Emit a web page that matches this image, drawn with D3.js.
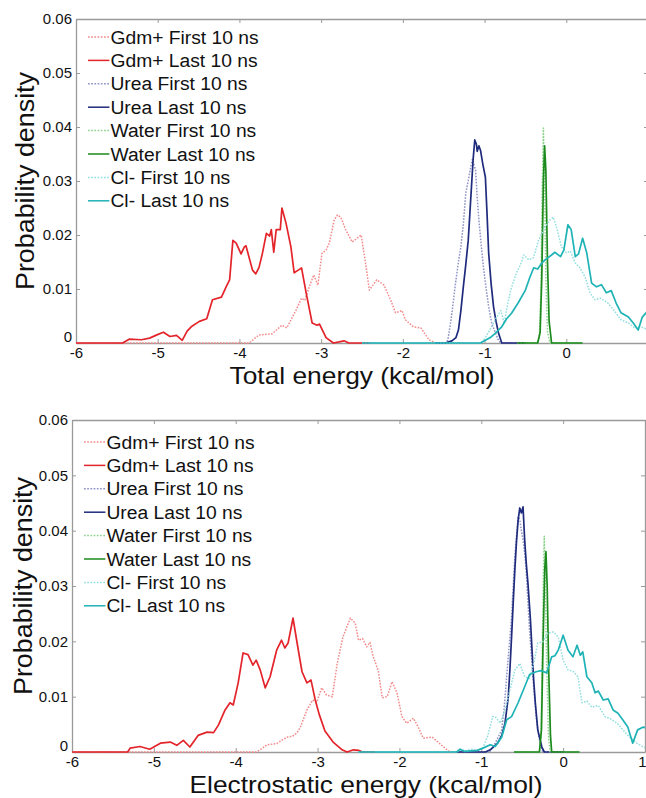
<!DOCTYPE html>
<html>
<head>
<meta charset="utf-8">
<script src="https://cdn.jsdelivr.net/npm/d3@7"></script>
<style>
body { margin: 0; background: #fff; }
svg { display: block; font-family: "Liberation Sans", Arial, sans-serif; }
</style>
</head>
<body>
<svg id="chart"></svg>
<script>
// ---- Total energy panel, [energy, density] pairs
const totGdmFirst = [[-6,0],[-3.88,0],[-3.76,0.0015],[-3.6,0.0017],[-3.48,0.0033],[-3.42,0.0028],[-3.31,0.006],[-3.24,0.0083],[-3.2,0.0079],[-3.15,0.0102],[-3.09,0.0126],[-3.04,0.0107],[-2.99,0.0166],[-2.94,0.0172],[-2.9,0.0185],[-2.84,0.0228],[-2.8,0.0237],[-2.76,0.0233],[-2.7,0.021],[-2.62,0.0187],[-2.51,0.02],[-2.45,0.0141],[-2.41,0.0098],[-2.32,0.0117],[-2.23,0.0107],[-2.15,0.008],[-2.09,0.0056],[-2.01,0.006],[-1.97,0.0043],[-1.87,0.003],[-1.78,0.0028],[-1.68,0.0006],[-1.6,0]];
const totGdmLast = [[-6,0],[-5.43,0],[-5.35,0.0007],[-5.2,0.0006],[-5.1,0.0009],[-5.01,0.0015],[-4.93,0.002],[-4.85,0.0012],[-4.77,0.0014],[-4.7,0.0005],[-4.64,0.0022],[-4.59,0.003],[-4.49,0.004],[-4.4,0.0045],[-4.33,0.008],[-4.22,0.0085],[-4.16,0.0105],[-4.12,0.0117],[-4.08,0.019],[-4.04,0.0185],[-3.98,0.0165],[-3.94,0.0178],[-3.92,0.018],[-3.84,0.0135],[-3.8,0.0128],[-3.76,0.014],[-3.72,0.0165],[-3.67,0.0203],[-3.63,0.0198],[-3.61,0.021],[-3.58,0.0168],[-3.55,0.021],[-3.5,0.021],[-3.48,0.025],[-3.43,0.0222],[-3.37,0.0178],[-3.33,0.013],[-3.28,0.0135],[-3.24,0.0139],[-3.18,0.009],[-3.11,0.0037],[-3.05,0.0033],[-3.02,0.0035],[-2.94,0.001],[-2.85,0],[-2.78,0.0002],[-2.72,0.0004],[-2.66,0],[-2.4,0]];
const totUreaFirst = [[-1.6,0],[-1.48,0],[-1.45,0.0005],[-1.41,0.0043],[-1.38,0.008],[-1.35,0.0117],[-1.32,0.015],[-1.29,0.0178],[-1.26,0.022],[-1.23,0.0278],[-1.2,0.03],[-1.17,0.0326],[-1.15,0.034],[-1.13,0.033],[-1.11,0.032],[-1.09,0.027],[-1.07,0.0228],[-1.04,0.018],[-1.01,0.0135],[-0.98,0.01],[-0.95,0.0067],[-0.91,0.0035],[-0.87,0.002],[-0.83,0.0005],[-0.8,0],[-0.5,0]];
const totUreaLast = [[-1.6,0],[-1.48,0],[-1.4,0.0004],[-1.35,0.001],[-1.32,0.0024],[-1.29,0.006],[-1.26,0.0104],[-1.23,0.0145],[-1.2,0.019],[-1.18,0.024],[-1.16,0.029],[-1.14,0.034],[-1.12,0.0376],[-1.1,0.0368],[-1.09,0.0355],[-1.07,0.0365],[-1.05,0.0357],[-1.02,0.033],[-0.99,0.0307],[-0.97,0.024],[-0.95,0.0167],[-0.92,0.011],[-0.89,0.0067],[-0.86,0.004],[-0.83,0.0019],[-0.79,0],[-0.5,0]];
const totWaterFirst = [[-0.6,0],[-0.36,0],[-0.33,0.001],[-0.31,0.01],[-0.295,0.028],[-0.28,0.0398],[-0.265,0.03],[-0.25,0.012],[-0.23,0.002],[-0.2,0],[0.2,0]];
const totWaterLast = [[-0.6,0],[-0.35,0],[-0.32,0.002],[-0.3,0.012],[-0.28,0.03],[-0.265,0.0365],[-0.25,0.032],[-0.23,0.015],[-0.21,0.004],[-0.18,0],[0.2,0]];
const totClFirst = [[-2.5,0],[-1.05,0],[-1,0.0008],[-0.95,0.002],[-0.87,0.0043],[-0.8,0.006],[-0.76,0.0037],[-0.72,0.007],[-0.68,0.0098],[-0.61,0.013],[-0.56,0.0145],[-0.52,0.0163],[-0.46,0.0154],[-0.4,0.0158],[-0.34,0.019],[-0.26,0.0215],[-0.2,0.0228],[-0.16,0.0233],[-0.12,0.0215],[-0.06,0.0178],[0,0.0167],[0.05,0.017],[0.11,0.0148],[0.17,0.0139],[0.23,0.0122],[0.29,0.0093],[0.35,0.008],[0.42,0.0083],[0.51,0.0074],[0.58,0.0061],[0.67,0.0043],[0.76,0.0037],[0.84,0.0028],[0.91,0.003],[1,0.0025]];
const totClLast = [[-2.5,0],[-1.05,0],[-0.99,0.0005],[-0.93,0.001],[-0.87,0.0018],[-0.79,0.003],[-0.73,0.0045],[-0.67,0.0055],[-0.59,0.0074],[-0.5,0.0098],[-0.45,0.012],[-0.4,0.0139],[-0.35,0.0137],[-0.3,0.0148],[-0.26,0.0154],[-0.18,0.0163],[-0.14,0.0168],[-0.07,0.016],[-0.03,0.0172],[0.02,0.0219],[0.06,0.021],[0.11,0.016],[0.15,0.0165],[0.2,0.0194],[0.25,0.0167],[0.31,0.0111],[0.37,0.0104],[0.43,0.0108],[0.49,0.0093],[0.55,0.0097],[0.61,0.0074],[0.67,0.0056],[0.76,0.0048],[0.82,0.0037],[0.88,0.0024],[0.93,0.0048],[1,0.006]];

// ---- Electrostatic energy panel
const eleGdmFirst = [[-6,0],[-3.75,0],[-3.7,0.0004],[-3.62,0.0013],[-3.5,0.0015],[-3.43,0.0022],[-3.37,0.0027],[-3.31,0.0028],[-3.25,0.0035],[-3.21,0.0045],[-3.13,0.0076],[-3.06,0.0094],[-3.01,0.009],[-2.95,0.0116],[-2.89,0.0103],[-2.82,0.01],[-2.76,0.016],[-2.69,0.0208],[-2.6,0.0242],[-2.54,0.0233],[-2.5,0.0202],[-2.45,0.0205],[-2.4,0.019],[-2.36,0.0198],[-2.32,0.0172],[-2.26,0.0148],[-2.21,0.0098],[-2.15,0.01],[-2.09,0.0127],[-2.03,0.0107],[-1.97,0.0064],[-1.91,0.0052],[-1.83,0.0061],[-1.77,0.0045],[-1.71,0.0025],[-1.6,0.0027],[-1.53,0.0018],[-1.42,0.0004],[-1.38,0],[-1.2,0]];
const eleGdmLast = [[-6,0],[-5.32,0],[-5.29,0.0007],[-5.17,0.001],[-5.05,0.0005],[-4.92,0.0016],[-4.8,0.0018],[-4.72,0.0012],[-4.64,0.0021],[-4.56,0.0009],[-4.46,0.003],[-4.35,0.0036],[-4.27,0.0035],[-4.21,0.0049],[-4.13,0.0076],[-4.07,0.0089],[-4.03,0.0085],[-3.97,0.0125],[-3.91,0.0179],[-3.85,0.0176],[-3.79,0.0157],[-3.75,0.0166],[-3.7,0.0148],[-3.64,0.0116],[-3.58,0.0136],[-3.5,0.0184],[-3.44,0.0202],[-3.4,0.0188],[-3.36,0.0197],[-3.3,0.0242],[-3.25,0.0197],[-3.19,0.0145],[-3.13,0.0125],[-3.08,0.013],[-3.03,0.0095],[-2.98,0.0068],[-2.91,0.0038],[-2.81,0.0018],[-2.7,0.0004],[-2.64,0],[-2.56,0.0004],[-2.5,0.0003],[-2.45,0],[-2.3,0]];
const eleUreaFirst = [[-1.3,0],[-0.9,0],[-0.83,0.0016],[-0.75,0.004],[-0.72,0.008],[-0.69,0.0136],[-0.66,0.019],[-0.63,0.0244],[-0.61,0.03],[-0.59,0.0353],[-0.57,0.039],[-0.55,0.0425],[-0.53,0.042],[-0.51,0.04],[-0.49,0.0383],[-0.47,0.036],[-0.45,0.0323],[-0.43,0.027],[-0.41,0.022],[-0.39,0.018],[-0.37,0.0136],[-0.35,0.01],[-0.33,0.0064],[-0.3,0.003],[-0.28,0.0016],[-0.25,0],[0,0]];
const eleUreaLast = [[-1.3,0],[-0.95,0],[-0.89,0.0004],[-0.8,0.0016],[-0.75,0.003],[-0.71,0.0052],[-0.67,0.01],[-0.65,0.015],[-0.63,0.0208],[-0.61,0.027],[-0.59,0.0329],[-0.57,0.038],[-0.55,0.0419],[-0.53,0.0441],[-0.51,0.0432],[-0.49,0.0443],[-0.47,0.0383],[-0.45,0.034],[-0.43,0.0305],[-0.4,0.024],[-0.38,0.0184],[-0.36,0.013],[-0.34,0.0089],[-0.31,0.004],[-0.26,0.0009],[-0.23,0],[0,0]];
const eleWaterFirst = [[-0.6,0],[-0.29,0],[-0.27,0.003],[-0.255,0.018],[-0.24,0.033],[-0.23,0.039],[-0.22,0.032],[-0.2,0.015],[-0.18,0.003],[-0.16,0],[0.2,0]];
const eleWaterLast = [[-0.6,0],[-0.29,0],[-0.265,0.004],[-0.245,0.02],[-0.225,0.033],[-0.21,0.0362],[-0.195,0.03],[-0.175,0.014],[-0.155,0.003],[-0.14,0],[0.2,0]];
const eleClFirst = [[-2.5,0],[-1.3,0],[-1.25,0.0005],[-1.2,0.0002],[-1.12,0.0005],[-1.05,0.0003],[-0.98,0.0007],[-0.92,0.003],[-0.86,0.0064],[-0.83,0.0064],[-0.77,0.0052],[-0.71,0.0076],[-0.65,0.0112],[-0.59,0.0148],[-0.53,0.016],[-0.47,0.0136],[-0.41,0.0133],[-0.35,0.0166],[-0.31,0.0197],[-0.25,0.0199],[-0.19,0.0215],[-0.12,0.0217],[-0.06,0.0208],[0,0.0166],[0.06,0.0148],[0.12,0.0146],[0.18,0.0136],[0.23,0.0089],[0.29,0.0092],[0.35,0.0081],[0.43,0.0084],[0.51,0.0064],[0.58,0.006],[0.66,0.0052],[0.73,0.004],[0.81,0.0027],[0.9,0.0016],[0.98,0.0009],[1,0.0008]];
const eleClLast = [[-2.5,0],[-1.3,0],[-1.26,0.0005],[-1.2,0.0001],[-1.05,0.0003],[-0.98,0.0007],[-0.89,0.0013],[-0.83,0.001],[-0.75,0.0027],[-0.69,0.0058],[-0.63,0.0064],[-0.55,0.0089],[-0.47,0.0118],[-0.41,0.014],[-0.33,0.0145],[-0.27,0.0147],[-0.2,0.0143],[-0.14,0.0172],[-0.1,0.0174],[-0.06,0.0184],[0,0.0211],[0.06,0.0184],[0.12,0.0172],[0.17,0.0193],[0.21,0.0175],[0.24,0.0181],[0.29,0.0136],[0.35,0.0125],[0.39,0.0107],[0.43,0.011],[0.49,0.0094],[0.55,0.0096],[0.61,0.0076],[0.67,0.007],[0.73,0.0058],[0.79,0.0045],[0.85,0.0016],[0.91,0.004],[0.98,0.0045],[1,0.0044]];

const seriesNames = ["Gdm+ First 10 ns", "Gdm+ Last 10 ns", "Urea First 10 ns", "Urea Last 10 ns",
    "Water First 10 ns", "Water Last 10 ns", "Cl- First 10 ns", "Cl- Last 10 ns"];
const seriesColors = ["#f28b8b", "#e3242b", "#8f93c6", "#1f2b7c", "#8fd38f", "#1d8a1d", "#93dede", "#1fb3b6"];
const seriesDotted = [true, false, true, false, true, false, true, false];

const xTicks = [-6, -5, -4, -3, -2, -1, 0, 1];
const yTicks = [0, 0.01, 0.02, 0.03, 0.04, 0.05, 0.06];

const svgWidth = 646;
const svgHeight = 798;

const panels = [
    { xlabel: "Total energy (kcal/mol)", series: [totGdmFirst, totGdmLast, totUreaFirst, totUreaLast, totWaterFirst, totWaterLast, totClFirst, totClLast],
      left: 76, right: 648, top: 19, bottom: 343, legendY: 37, ylabelX: 34, xlabelX: 362, xlabelY: 384, xlabelLen: 265 },
    { xlabel: "Electrostatic energy (kcal/mol)", series: [eleGdmFirst, eleGdmLast, eleUreaFirst, eleUreaLast, eleWaterFirst, eleWaterLast, eleClFirst, eleClLast],
      left: 72, right: 645, top: 420, bottom: 752, legendY: 442, ylabelX: 32, xlabelX: 366, xlabelY: 793, xlabelLen: 353 }
];

const svg = d3.select('#chart')
    .attr('width', svgWidth)
    .attr('height', svgHeight);

svg.append('rect').attr('width', svgWidth).attr('height', svgHeight).attr('fill', '#fff');

let fmtY = d => d === 0 ? "0" : d3.format(".2f")(d);
let fmtX = d => String(d);

panels.forEach((p, pi) => {
    const x = d3.scaleLinear().domain([-6, 1]).range([p.left, p.right]);
    const y = d3.scaleLinear().domain([0, 0.06]).range([p.bottom, p.top]);
    const g = svg.append('g');

    g.append('clipPath').attr('id', `clip${pi}`)
        .append('rect')
        .attr('x', p.left).attr('y', p.top - 2)
        .attr('width', p.right - p.left).attr('height', p.bottom - p.top + 3);

    // box + inward ticks, matlab style
    const axes = [
        d3.axisBottom(x).tickValues(xTicks).tickFormat(fmtX).tickSizeInner(-4).tickSizeOuter(0).tickPadding(4),
        d3.axisTop(x).tickValues(xTicks).tickFormat('').tickSizeInner(-4).tickSizeOuter(0),
        d3.axisLeft(y).tickValues(yTicks).tickFormat(fmtY).tickSizeInner(-4).tickSizeOuter(0).tickPadding(4),
        d3.axisRight(y).tickValues(yTicks).tickFormat('').tickSizeInner(-4).tickSizeOuter(0)
    ];
    const offsets = [`translate(0,${p.bottom})`, `translate(0,${p.top})`, `translate(${p.left},0)`, `translate(${p.right},0)`];
    const axisGroups = axes.map((ax, i) => {
        let a = g.append('g').attr('transform', offsets[i]).call(ax);
        a.select('.domain').attr('stroke', '#9a9a9a').attr('stroke-width', 1.3);
        a.selectAll('.tick line').attr('stroke', '#9a9a9a');
        a.selectAll('.tick text').attr('fill', '#111').style('font-size', '15px').style('font-family', '"Liberation Sans", Arial, sans-serif');
        return a;
    });

    // last x label sits on the image edge: drop it if it falls outside, else keep it inside
    axisGroups[0].selectAll('.tick text')
        .filter(d => d === 1)
        .each(function () {
            if (p.right > svgWidth) d3.select(this).remove();
            else d3.select(this).attr('text-anchor', 'end').attr('x', svgWidth - p.right);
        });
    // the "0" density label sits a little above the corner, clear of "-6"
    axisGroups[2].selectAll('.tick text')
        .filter(d => d === 0)
        .attr('dy', '-0.1em');

    const line = d3.line().x(d => x(d[0])).y(d => y(d[1]));
    g.append('g').attr('clip-path', `url(#clip${pi})`)
        .selectAll('path')
        .data(p.series)
        .enter()
        .append('path')
        .attr('d', line)
        .attr('fill', 'none')
        .attr('stroke', (d, i) => seriesColors[i])
        .attr('stroke-width', (d, i) => seriesDotted[i] ? 1.5 : 1.7)
        .attr('stroke-dasharray', (d, i) => seriesDotted[i] ? '1.6,1.4' : null)
        .attr('stroke-linejoin', 'round');

    // legend
    const leg = g.append('g').attr('transform', `translate(${p.left + 12},${p.legendY}) scale(1.07,1)`);
    seriesNames.forEach((name, i) => {
        const row = leg.append('g').attr('transform', `translate(0,${i * 23.4})`);
        row.append('line')
            .attr('x1', 0).attr('x2', 20).attr('y1', 0).attr('y2', 0)
            .attr('stroke', seriesColors[i])
            .attr('stroke-width', 1.5)
            .attr('stroke-dasharray', seriesDotted[i] ? '1.6,1.4' : null);
        row.append('text')
            .attr('x', 21).attr('y', 6.5)
            .attr('fill', '#111')
            .style('font-size', '18px')
            .text(name);
    });

    g.append('text')
        .attr('x', p.xlabelX).attr('y', p.xlabelY)
        .attr('text-anchor', 'middle')
        .attr('textLength', p.xlabelLen)
        .attr('lengthAdjust', 'spacingAndGlyphs')
        .attr('fill', '#111')
        .style('font-size', '24px')
        .text(p.xlabel);

    const midY = (p.top + p.bottom) / 2;
    g.append('text')
        .attr('transform', `translate(${p.ylabelX},${midY}) rotate(-90)`)
        .attr('text-anchor', 'middle')
        .attr('textLength', 218)
        .attr('lengthAdjust', 'spacingAndGlyphs')
        .attr('fill', '#111')
        .style('font-size', '25px')
        .text('Probability density');
});
</script>
</body>
</html>
